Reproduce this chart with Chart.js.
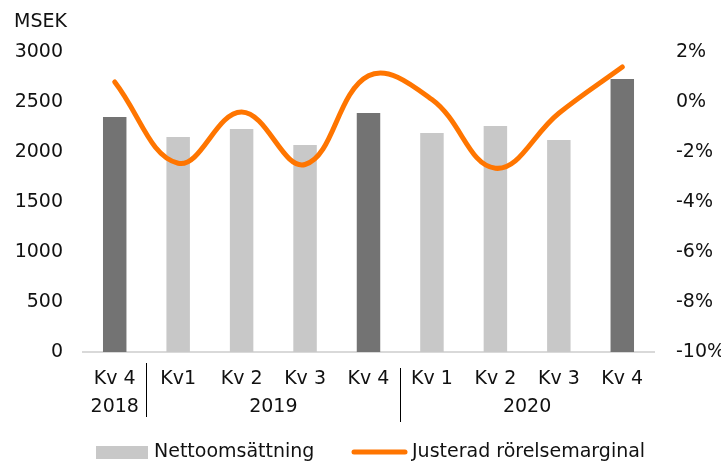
<!DOCTYPE html>
<html>
<head>
<meta charset="utf-8">
<script src="https://cdn.jsdelivr.net/npm/chart.js@4"></script>
<style>
  html, body { margin: 0; padding: 0; background: #fff; }
  #wrap { width: 721px; height: 463px; position: relative; }
</style>
</head>
<body>
<div id="wrap"><canvas id="chart"></canvas></div>
<script>
// ---------- Data ----------
const QUARTERS = ['Kv 4', 'Kv1', 'Kv 2', 'Kv 3', 'Kv 4', 'Kv 1', 'Kv 2', 'Kv 3', 'Kv 4'];
const REVENUE = [2350, 2150, 2230, 2070, 2390, 2190, 2260, 2120, 2730];   // MSEK
const MARGIN = [0.8, -2.45, -0.4, -2.5, 1.05, 0.1, -2.65, -0.45, 1.4];    // %
const YEARS = ['2018', '2019', '2020'];
const YEAR_SPANS = [[0, 0], [1, 4], [5, 8]];   // first/last quarter index per year

const LEFT_TICKS = { min: 0, max: 3000, step: 500 };
const RIGHT_TICKS = { min: -10, max: 2, step: 2 };

const DARK = '#737373', LIGHT = '#c8c8c8', ORANGE = '#ff7500', INK = '#111';
const FONT = 'DejaVu Sans, sans-serif';

// Q4 bars are darker
const barColors = QUARTERS.map((q, i) => (i % 4 === 0 ? DARK : LIGHT));

// ---------- Extra drawing: unit label, years, separators, legend ----------
const extras = {
  id: 'extras',
  afterDraw(chart) {
    const { ctx } = chart;
    const x = chart.scales.x;
    ctx.save();
    ctx.fillStyle = INK;
    ctx.font = `19px ${FONT}`;
    ctx.textBaseline = 'middle';

    ctx.textAlign = 'left';
    ctx.fillText('MSEK', 14, 22);

    // year labels under the quarter ticks
    ctx.textAlign = 'center';
    YEAR_SPANS.forEach(([a, b], i) => {
      const cx = (x.getPixelForValue(a) + x.getPixelForValue(b)) / 2;
      ctx.fillText(YEARS[i], cx, 407);
    });

    // separators between years
    ctx.strokeStyle = '#000';
    ctx.lineWidth = 1;
    YEAR_SPANS.slice(1).forEach(([a], i) => {
      const sx = Math.round((x.getPixelForValue(a - 1) + x.getPixelForValue(a)) / 2) + 0.5;
      ctx.beginPath();
      ctx.moveTo(sx, 363 + i * 5);
      ctx.lineTo(sx, 417 + i * 5);
      ctx.stroke();
    });

    // legend
    ctx.textAlign = 'left';
    ctx.fillStyle = LIGHT;
    ctx.fillRect(96, 446, 52, 13);
    ctx.fillStyle = INK;
    ctx.fillText('Nettoomsättning', 154, 452);

    ctx.strokeStyle = ORANGE;
    ctx.lineWidth = 5;
    ctx.lineCap = 'round';
    ctx.beginPath();
    ctx.moveTo(354, 452);
    ctx.lineTo(405, 452);
    ctx.stroke();
    ctx.fillText('Justerad rörelsemarginal', 412, 452);
    ctx.restore();
  }
};

new Chart(document.getElementById('chart'), {
  data: {
    labels: QUARTERS,
    datasets: [
      {
        type: 'line',
        label: 'Justerad rörelsemarginal',
        data: MARGIN,
        yAxisID: 'y1',
        borderColor: ORANGE,
        borderWidth: 5,
        borderCapStyle: 'round',
        tension: 0.4,
        pointRadius: 0,
        order: 0
      },
      {
        type: 'bar',
        label: 'Nettoomsättning',
        data: REVENUE,
        yAxisID: 'y',
        backgroundColor: barColors,
        categoryPercentage: 1,
        barPercentage: 0.37,
        order: 1
      }
    ]
  },
  options: {
    responsive: true,
    maintainAspectRatio: false,
    animation: false,
    layout: { padding: { top: 52, bottom: 0, left: 0, right: 0 } },
    plugins: { legend: { display: false }, tooltip: { enabled: false } },
    scales: {
      x: {
        offset: true,
        grid: { display: false, drawTicks: false },
        border: { display: true, color: '#d9d9d9', width: 2 },
        ticks: { color: INK, font: { family: FONT, size: 19 }, padding: 16, maxRotation: 0, autoSkip: false },
        afterFit(s) { s.height = 111; }
      },
      y: {
        position: 'left',
        min: LEFT_TICKS.min, max: LEFT_TICKS.max,
        grid: { display: false, drawTicks: false },
        border: { display: false },
        ticks: { stepSize: LEFT_TICKS.step, color: INK, font: { family: FONT, size: 19 }, padding: 20, callback: v => String(v) },
        afterFit(s) { s.width = 83; }
      },
      y1: {
        position: 'right',
        min: RIGHT_TICKS.min, max: RIGHT_TICKS.max,
        grid: { display: false, drawTicks: false },
        border: { display: false },
        ticks: { stepSize: RIGHT_TICKS.step, color: INK, font: { family: FONT, size: 19 }, padding: 22, callback: v => v + '%' },
        afterFit(s) { s.width = 67; }
      }
    }
  },
  plugins: [extras]
});
</script>
</body>
</html>
